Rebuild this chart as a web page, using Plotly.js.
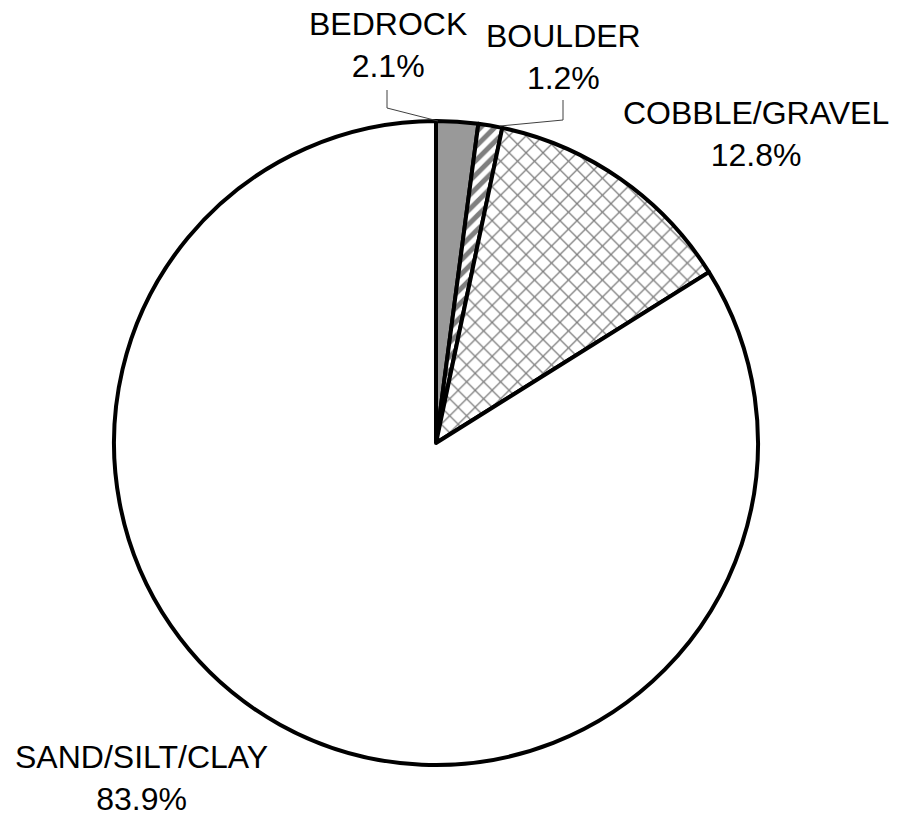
<!DOCTYPE html>
<html>
<head>
<meta charset="utf-8">
<script src="https://cdn.plot.ly/plotly-3.0.1.min.js"></script>
<style>html,body{margin:0;padding:0;background:#fff;}#chart{width:898px;height:816px;}</style>
</head>
<body>
<div id="chart"></div>
<script>
const categories = ["BEDROCK", "BOULDER", "COBBLE/GRAVEL", "SAND/SILT/CLAY"];
const percents = [2.1, 1.2, 12.8, 83.9];
const fillColors = ["#999999", "#ffffff", "#ffffff", "#ffffff"];
const patternShapes = ["", "/", "x", ""];

const W = 898, H = 816;
const px = x => x / W;
const py = y => 1 - y / H;

// label text centre positions (pixels)
const labelPos = [[388, 45], [563, 57], [756, 134], [141, 778]];

const trace = {
  type: "pie",
  labels: categories,
  values: percents,
  sort: false,
  direction: "clockwise",
  rotation: 0,
  textinfo: "none",
  hoverinfo: "label+percent",
  showlegend: false,
  domain: {x: [px(114), px(758)], y: [py(765), py(121)]},
  marker: {
    colors: fillColors,
    line: {color: "#000000", width: 4},
    pattern: {
      shape: patternShapes,
      fgcolor: "#000000",
      bgcolor: "#ffffff",
      size: [8, 10, 12, 8],
      solidity: [0.3, 0.5, 0.2, 0.3],
      fillmode: "overlay"
    }
  }
};

const annotations = categories.map((c, i) => ({
  xref: "paper", yref: "paper",
  x: px(labelPos[i][0]), y: py(labelPos[i][1]),
  xanchor: "center", yanchor: "middle",
  text: c + "<br>" + percents[i].toFixed(1) + "%",
  showarrow: false,
  align: "center",
  font: {family: "Liberation Sans, Arial, sans-serif", size: 32, color: "#000000"}
}));

const shapes = [
  {type: "path", xref: "paper", yref: "paper",
   path: `M ${px(387)} ${py(90)} L ${px(387)} ${py(108)} L ${px(438)} ${py(121)}`,
   line: {color: "#404040", width: 1}},
  {type: "path", xref: "paper", yref: "paper",
   path: `M ${px(563)} ${py(100)} L ${px(563)} ${py(120)} L ${px(500)} ${py(126)}`,
   line: {color: "#404040", width: 1}}
];

const layout = {
  width: W, height: H,
  margin: {l: 0, r: 0, t: 0, b: 0},
  paper_bgcolor: "#ffffff",
  plot_bgcolor: "#ffffff",
  annotations: annotations,
  shapes: shapes,
  font: {family: "Liberation Sans, Arial, sans-serif"}
};

Plotly.newPlot("chart", [trace], layout, {displayModeBar: false, staticPlot: true});
</script>
</body>
</html>
